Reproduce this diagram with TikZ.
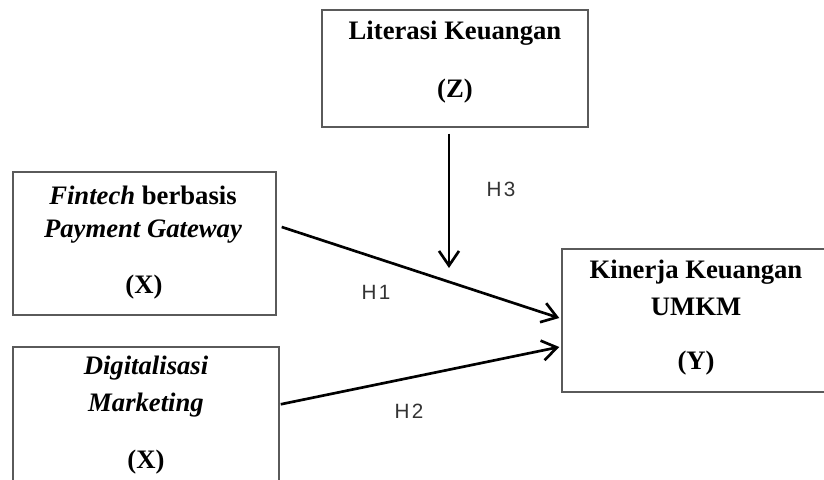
\documentclass[tikz,border=0pt]{standalone}
\usepackage{fontspec}
\setmainfont{Liberation Serif}
\newfontfamily\hypfont[LetterSpace=12]{Liberation Sans}
\usetikzlibrary{arrows.meta,calc}
\definecolor{boxgray}{HTML}{5A5A5A}
\definecolor{hypgray}{HTML}{333333}
\tikzset{
  varbox/.style={draw=boxgray, line width=1.1pt, rectangle, inner sep=0pt},
  vartext/.style={font=\fontsize{20}{24}\selectfont\bfseries, inner sep=0pt},
  hyplabel/.style={font=\fontsize{15.5}{17}\selectfont\hypfont, text=hypgray, inner sep=0pt},
  hyparrow/.style={draw=black, line width=2pt, -{Straight Barb[length=11pt,width=15pt,line width=2pt]}}
}
\begin{document}
\begin{tikzpicture}[x=0.75pt,y=-0.75pt]
\useasboundingbox (0,0) rectangle (824,479);
\clip (0,0) rectangle (824,479);
% boxes
\node[varbox, minimum width=266*0.75pt, minimum height=117*0.75pt] (lit) at (455,68.5) {};
\node[varbox, minimum width=263*0.75pt, minimum height=143*0.75pt] (fin) at (144.5,243.5) {};
\node[varbox, minimum width=266*0.75pt, minimum height=180*0.75pt] (dig) at (146,437) {};
\node[varbox, minimum width=290*0.75pt, minimum height=143*0.75pt] (kin) at (707,320.5) {};
% texts
\node[vartext] at (455,33) {Literasi Keuangan};
\node[vartext] at (455,91) {(Z)};
\node[vartext] at (143,195) {\textit{Fintech} berbasis};
\node[vartext] at (143,232) {\textit{Payment Gateway}};
\node[vartext] at (144,287) {(X)};
\node[vartext] at (146,368) {\textit{Digitalisasi}};
\node[vartext] at (146,405) {\textit{Marketing}};
\node[vartext] at (146,462) {(X)};
\node[vartext] at (696,272) {Kinerja Keuangan};
\node[vartext] at (696,307) {UMKM};
\node[vartext] at (696,363) {(Y)};
% paths
\coordinate (mod) at (449,268);
\draw[hyparrow] ($(lit.south)+(-6,6)$) -- (mod);
\draw[hyparrow] ([shift={(5,-16.5)}]fin.east) -- ([shift={(-2,-2.5)}]kin.west);
\draw[hyparrow] ([shift={(1,58)}]dig.north east) -- ([shift={(-2,26.5)}]kin.west);
\node[hyplabel] at (501,189) {H3};
\node[hyplabel] at (376,292) {H1};
\node[hyplabel] at (409,411) {H2};
\end{tikzpicture}
\end{document}
